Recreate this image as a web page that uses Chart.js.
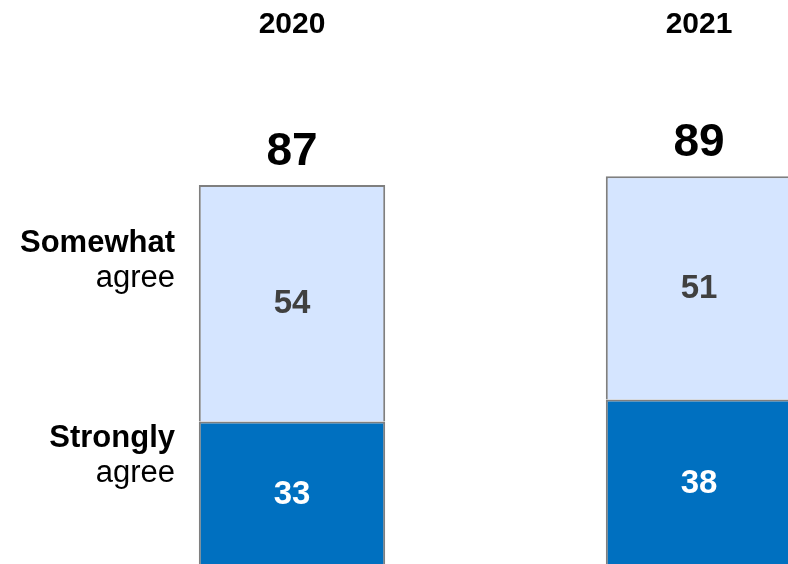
<!DOCTYPE html>
<html>
<head>
<meta charset="utf-8">
<script src="https://cdn.jsdelivr.net/npm/chart.js@4.4.1/dist/chart.umd.min.js"></script>
<style>
  html, body { margin: 0; padding: 0; background: #fff; overflow: hidden; }
  #wrap { position: relative; width: 940px; height: 600px; }
</style>
</head>
<body>
<div id="wrap"><canvas id="c"></canvas></div>
<script>
// Survey results by year (percent)
const years = ['2020', '2021'];
const stronglyAgree = [33, 38];
const somewhatAgree = [54, 51];
const totals = [87, 89];
const rowLabels = [
  { bold: 'Somewhat', normal: 'agree', at: 71.8 },
  { bold: 'Strongly', normal: 'agree', at: 27.2 }
];

const FONT = '"Liberation Sans", Arial, sans-serif';

const labelPlugin = {
  id: 'labels',
  afterDatasetsDraw(chart) {
    const { ctx, scales: { x, y } } = chart;
    ctx.save();
    ctx.textAlign = 'center';

    // year headers
    ctx.fillStyle = '#000';
    ctx.font = 'bold 30px ' + FONT;
    ctx.textBaseline = 'middle';
    years.forEach((yr, i) => ctx.fillText(yr, x.getPixelForValue(i), 25));

    // totals above each stack
    ctx.font = 'bold 46px ' + FONT;
    ctx.textBaseline = 'alphabetic';
    totals.forEach((t, i) => ctx.fillText(String(t), x.getPixelForValue(i), y.getPixelForValue(t) - 20));

    // segment values
    ctx.font = 'bold 33px ' + FONT;
    ctx.textBaseline = 'middle';
    stronglyAgree.forEach((v, i) => {
      ctx.fillStyle = '#fff';
      ctx.fillText(String(v), x.getPixelForValue(i), y.getPixelForValue(v / 2) + 1);
    });
    somewhatAgree.forEach((v, i) => {
      ctx.fillStyle = '#404040';
      const base = stronglyAgree[i];
      ctx.fillText(String(v), x.getPixelForValue(i), y.getPixelForValue(base + v / 2) + 1);
    });

    // row labels on the left
    ctx.textAlign = 'right';
    ctx.textBaseline = 'alphabetic';
    ctx.fillStyle = '#000';
    rowLabels.forEach(r => {
      const by = y.getPixelForValue(r.at);
      ctx.font = 'bold 31px ' + FONT;
      ctx.fillText(r.bold, 175, by);
      ctx.font = '31px ' + FONT;
      ctx.fillText(r.normal, 175, by + 35);
    });
    ctx.restore();
  }
};

new Chart(document.getElementById('c'), {
  type: 'bar',
  data: {
    labels: years,
    datasets: [
      {
        label: 'Strongly agree',
        data: stronglyAgree,
        backgroundColor: '#0070C0',
        borderColor: '#7F7F7F',
        borderWidth: 2
      },
      {
        label: 'Somewhat agree',
        data: somewhatAgree,
        backgroundColor: '#D5E5FF',
        borderColor: '#7F7F7F',
        borderWidth: 2
      }
    ]
  },
  options: {
    responsive: true,
    maintainAspectRatio: false,
    animation: false,
    layout: { padding: { left: 88.5, right: 37.5, top: 128, bottom: 34 } },
    datasets: { bar: { categoryPercentage: 1, barPercentage: 0.458 } },
    scales: {
      x: { stacked: true, display: false },
      y: { stacked: true, display: false, min: 0, max: 100 }
    },
    plugins: { legend: { display: false }, tooltip: { enabled: false } }
  },
  plugins: [labelPlugin]
});
</script>
</body>
</html>
